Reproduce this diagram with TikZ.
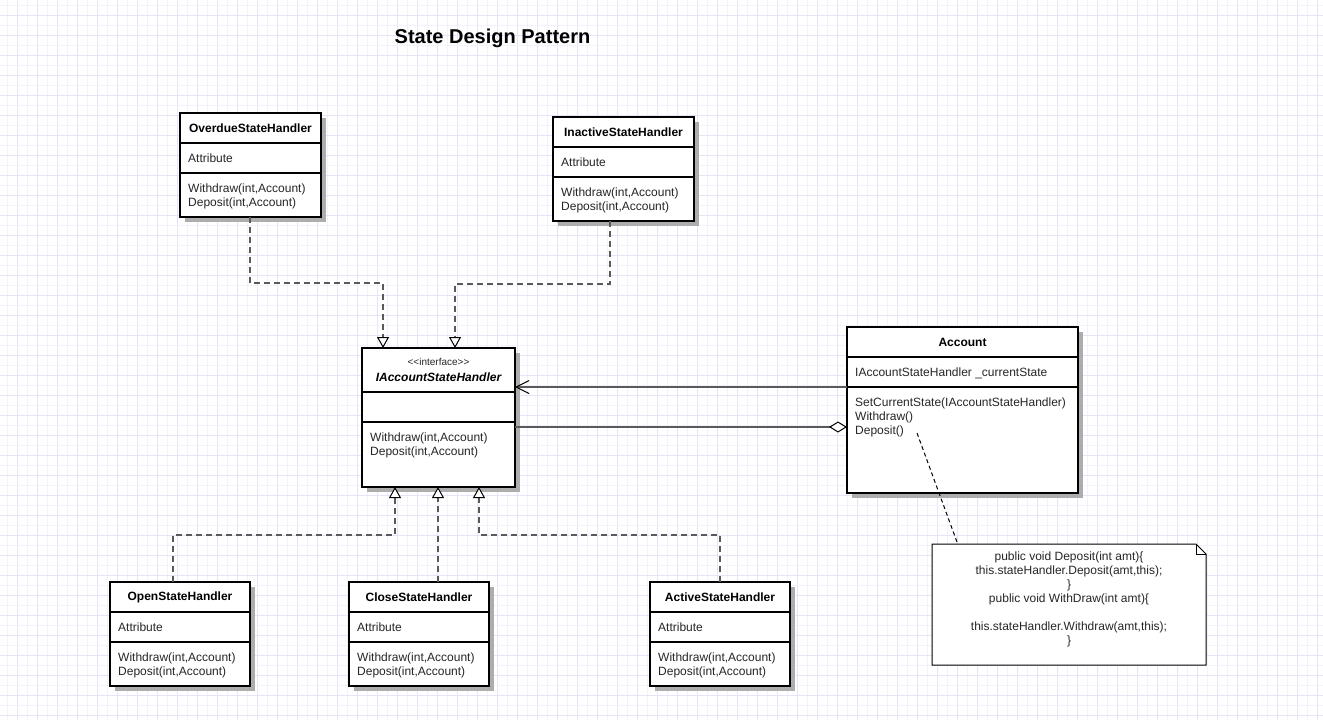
\documentclass[tikz,border=0pt]{standalone}
\usepackage{fontspec}
\setmainfont{Liberation Sans}
\usetikzlibrary{arrows.meta,calc}
\definecolor{gridA}{RGB}{243,242,252}
\definecolor{gridB}{RGB}{230,228,248}
\definecolor{txt}{RGB}{38,38,38}
\definecolor{conn}{RGB}{90,90,90}
\tikzset{
  boxst/.style={draw=black, line width=2pt, fill=white, inner sep=0pt, outer sep=0pt, anchor=north west},
  divider/.style={draw=black, line width=2pt},
  shadowst/.style={fill=black!32},
  ttl/.style={font=\bfseries\fontsize{12}{14}\selectfont, text=black, inner sep=0pt},
  mem/.style={font=\fontsize{12}{14}\selectfont, text=txt, inner sep=0pt, anchor=mid west},
  notetxt/.style={font=\fontsize{12}{14}\selectfont, text=txt, inner sep=0pt, anchor=mid},
  realize/.style={draw=conn, line width=1.3pt, dash pattern=on 6pt off 4pt,
    -{Triangle[open, fill=white, color=black, width=12pt, length=11pt, line width=1pt]}},
  assoc/.style={draw=conn, line width=1.3pt, -{Straight Barb[length=13pt, width=13pt, line width=1pt, color=black]}},
  aggr/.style={draw=conn, line width=1.3pt, -{Diamond[open, fill=white, color=black, length=18pt, width=11pt, line width=1pt]}},
  notest/.style={draw=black, line width=1pt, fill=white},
  notelink/.style={draw=black, line width=1pt, dash pattern=on 4pt off 3pt},
}
\newcommand{\umlclass}[9]{%
  \fill[shadowst] (#2+5,#3+5) rectangle ++(#4,#5);
  \node[boxst, minimum width=#4pt, minimum height=#5pt] (#1) at (#2,#3) {};
  \draw[divider] (#2,#3+#6) -- ++(#4,0);
  \draw[divider] (#2,#3+#6+#7) -- ++(#4,0);
  \node[ttl] (#1-t) at (#2+#4/2,#3+#6/2) {#8};
  \node[mem] (#1-a) at (#2+8,#3+#6+#7/2+1.5) {#9};
}
\begin{document}
\begin{tikzpicture}[x=1pt, y=-1pt]
\useasboundingbox (0,0) rectangle (1323,720);
\fill[white] (0,0) rectangle (1323,720);
% grid
\foreach \x in {7,27,...,1323} \draw[gridA, line width=1pt] (\x,0) -- (\x,720);
\foreach \x in {17,37,...,1323} \draw[gridB, line width=1pt] (\x,0) -- (\x,720);
\foreach \y in {5,25,...,720} \draw[gridA, line width=1pt] (0,\y) -- (1323,\y);
\foreach \y in {15,35,...,720} \draw[gridB, line width=1pt] (0,\y) -- (1323,\y);

\node[font=\bfseries\fontsize{20}{24}\selectfont, inner sep=0pt] (title) at (492.5,38) {State Design Pattern};

% classes
\umlclass{over}{180}{113}{141}{104}{30}{30}{OverdueStateHandler}{Attribute}
\node[mem] (over-m1) at (188,190) {Withdraw(int,Account)};
\node[mem] (over-m2) at (188,204) {Deposit(int,Account)};

\umlclass{inact}{553}{117}{141}{104}{30}{30}{InactiveStateHandler}{Attribute}
\node[mem] (inact-m1) at (561,194) {Withdraw(int,Account)};
\node[mem] (inact-m2) at (561,208) {Deposit(int,Account)};

\umlclass{iface}{362}{348}{153}{139}{44}{30}{}{}
\node[font=\fontsize{10}{12}\selectfont, text=txt, inner sep=0pt] (iface-s) at (438.5,362) {{<}{<}interface{>}{>}};
\node[font=\bfseries\itshape\fontsize{12}{14}\selectfont, inner sep=0pt] (iface-n) at (438.5,377) {IAccountStateHandler};
\node[mem] (iface-m1) at (370,439) {Withdraw(int,Account)};
\node[mem] (iface-m2) at (370,453) {Deposit(int,Account)};

\umlclass{acct}{847}{327}{231}{166}{30}{30}{Account}{IAccountStateHandler \_currentState}
\node[mem] (acct-m1) at (855,404) {SetCurrentState(IAccountStateHandler)};
\node[mem] (acct-m2) at (855,418) {Withdraw()};
\node[mem] (acct-m3) at (855,432) {Deposit()};

\umlclass{open}{110}{582}{140}{104}{30}{30}{OpenStateHandler}{Attribute}
\node[mem] (open-m1) at (118,659) {Withdraw(int,Account)};
\node[mem] (open-m2) at (118,673) {Deposit(int,Account)};

\umlclass{close}{349}{582}{140}{104}{30}{30}{CloseStateHandler}{Attribute}
\node[mem] (close-m1) at (357,659) {Withdraw(int,Account)};
\node[mem] (close-m2) at (357,673) {Deposit(int,Account)};

\umlclass{active}{650}{582}{140}{104}{30}{30}{ActiveStateHandler}{Attribute}
\node[mem] (active-m1) at (658,659) {Withdraw(int,Account)};
\node[mem] (active-m2) at (658,673) {Deposit(int,Account)};

% realization connectors
\draw[realize] ($(over.south)+(-0.5,0)$) -- ++(0,66) -| ($(iface.north west)+(21,0)$);
\draw[realize] ($(inact.south)+(-13.5,0)$) -- ++(0,63) -| ($(iface.north west)+(93,0)$);
\draw[realize] ($(open.north)+(-7,0)$) -- ++(0,-47) -| ($(iface.south west)+(33,0)$);
\draw[realize] ($(close.north)+(19,0)$) -- ($(iface.south west)+(76,0)$);
\draw[realize] (active.north) -- ++(0,-47) -| ($(iface.south west)+(117,0)$);

% association and aggregation
\draw[assoc] ($(acct.north west)+(0,60)$) -- ($(iface.north east)+(0,39)$);
\draw[aggr] ($(iface.north east)+(0,79)$) -- ($(acct.north west)+(0,100)$);

% note
\node[inner sep=0pt, outer sep=0pt, minimum width=274pt, minimum height=121pt, anchor=north west] (note) at (932,544) {};
\draw[notest] (note.north west) -- ($(note.north east)+(-10,0)$) -- ($(note.north east)+(0,10)$) -- (note.south east) -- (note.south west) -- cycle;
\draw[notest, fill=none] ($(note.north east)+(-10,0)$) -- ($(note.north east)+(-10,10)$) -- ($(note.north east)+(0,10)$);
\node[notetxt] (n1) at (1069,558) {public void Deposit(int amt)\{};
\node[notetxt] (n2) at (1069,572) {this.stateHandler.Deposit(amt,this);};
\node[notetxt] (n3) at (1069,586) {\}};
\node[notetxt] (n4) at (1069,600) {public void WithDraw(int amt)\{};
\node[notetxt] (n5) at (1069,628) {this.stateHandler.Withdraw(amt,this);};
\node[notetxt] (n6) at (1069,642) {\}};
\coordinate (dep) at (917,433);
\draw[notelink] (dep) -- ($(note.north west)+(25,-2)$);
\end{tikzpicture}
\end{document}
